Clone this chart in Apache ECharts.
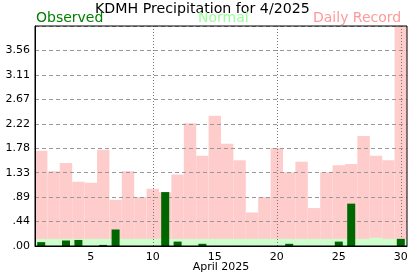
<!DOCTYPE html>
<html>
<head>
<meta charset="utf-8">
<script src="https://cdn.jsdelivr.net/npm/echarts@6/dist/echarts.min.js"></script>
<style>html,body{margin:0;padding:0;background:#fff}#c{width:417px;height:276px}</style>
</head>
<body>
<div id="c"></div>
<script>
const days = Array.from({length: 30}, (_, i) => String(i + 1));
const observed = [0.07, 0, 0.10, 0.11, 0, 0.02, 0.30, 0, 0, 0,
                  0.98, 0.08, 0, 0.04, 0, 0, 0, 0, 0, 0,
                  0.04, 0, 0, 0, 0.08, 0.77, 0, 0, 0, 0.13];
const normal = [0.13, 0.13, 0.13, 0.13, 0.13, 0.13, 0.13, 0.13, 0.13, 0.13,
                0.13, 0.13, 0.13, 0.13, 0.13, 0.13, 0.13, 0.13, 0.13, 0.13,
                0.13, 0.13, 0.13, 0.13, 0.13, 0.13, 0.13, 0.15, 0.13, 0.13];
const record = [1.73, 1.36, 1.51, 1.17, 1.15, 1.75, 0.84, 1.36, 0.89, 1.04,
                0.98, 1.30, 2.23, 1.64, 2.37, 1.86, 1.56, 0.61, 0.89, 1.78,
                1.34, 1.53, 0.69, 1.34, 1.47, 1.49, 2.00, 1.64, 1.56, 4.00];
const yTickLabels = ['.00', '.44', '.89', '1.33', '1.78', '2.22', '2.67', '3.11', '3.56', ''];
const xLabelDays = ['5', '10', '15', '20', '25', '30'];
const gridDays = ['10', '20', '30'];

const FONT = 'DejaVu Sans';
const chart = echarts.init(document.getElementById('c'), null, {renderer: 'canvas'});
const yMax = 4, yStep = 4 / 9;
chart.setOption({
  animation: false,
  title: [
    {text: 'KDMH Precipitation for 4/2025', left: 95, top: 2, padding: 0,
     textStyle: {fontFamily: FONT, fontSize: 14.2, fontWeight: 'normal', color: '#000'}},
    {text: 'Observed', left: 36, top: 11, padding: 0,
     textStyle: {fontFamily: FONT, fontSize: 14, fontWeight: 'normal', color: '#008000'}},
    {text: 'Normal', left: 198, top: 11, padding: 0,
     textStyle: {fontFamily: FONT, fontSize: 14, fontWeight: 'normal', color: '#99ff99'}},
    {text: 'Daily Record', left: 313, top: 11, padding: 0,
     textStyle: {fontFamily: FONT, fontSize: 14, fontWeight: 'normal', color: '#ff9999'}}
  ],
  grid: {left: 35, right: 10, top: 26, bottom: 30, show: true, borderColor: '#000', borderWidth: 1,
         backgroundColor: 'transparent', z: 6, outerBoundsMode: 'none', containLabel: false},
  xAxis: [
    {type: 'category', data: days, position: 'bottom', z: 6,
     axisLine: {lineStyle: {color: '#000', width: 1}},
     axisTick: {alignWithLabel: true, interval: 0, length: 3, lineStyle: {color: '#000'}},
     axisLabel: {interval: (i, v) => xLabelDays.includes(v), fontFamily: FONT, fontSize: 11, color: '#000', margin: 6},
     name: 'April 2025', nameLocation: 'middle', nameGap: 16, nameMoveOverlap: false,
     nameTextStyle: {fontFamily: FONT, fontSize: 11, color: '#000', verticalAlign: 'top'},
     splitLine: {show: false}},
    {type: 'category', data: days, position: 'bottom', z: 6,
     axisLine: {show: false},
     axisTick: {alignWithLabel: true, interval: (i, v) => xLabelDays.includes(v), length: 6, lineStyle: {color: '#000'}},
     axisLabel: {show: false}, splitLine: {show: false}},
    {type: 'category', data: days, position: 'bottom', show: false}
  ],
  yAxis: {type: 'value', min: 0, max: yMax, interval: yStep, z: 2,
    axisLine: {show: true, lineStyle: {color: '#000', width: 1}},
    axisTick: {show: false},
    axisLabel: {fontFamily: FONT, fontSize: 11, color: '#000', margin: 5,
      formatter: v => yTickLabels[Math.round(v / yStep)] || ''},
    splitLine: {show: true, lineStyle: {color: '#999', type: [4, 3], width: 1}}},
  series: [
    {type: 'bar', name: 'Daily Record', data: record, xAxisIndex: 0, barWidth: '100%', barGap: '-100%',
     itemStyle: {color: '#ffcccc'}, z: 1, silent: true},
    {type: 'bar', name: 'Normal', data: normal, xAxisIndex: 0, barWidth: '100%', barGap: '-100%',
     itemStyle: {color: '#ccffcc'}, z: 1, silent: true,
     markLine: {silent: true, symbol: 'none', label: {show: false}, z: 3,
       lineStyle: {color: '#777', type: [1, 2], width: 1},
       data: gridDays.map(d => ({xAxis: d}))}},
    {type: 'bar', name: 'Observed', data: observed, xAxisIndex: 2, barWidth: 8,
     itemStyle: {color: '#006600'}, z: 4, silent: true}
  ]
});
</script>
</body>
</html>
